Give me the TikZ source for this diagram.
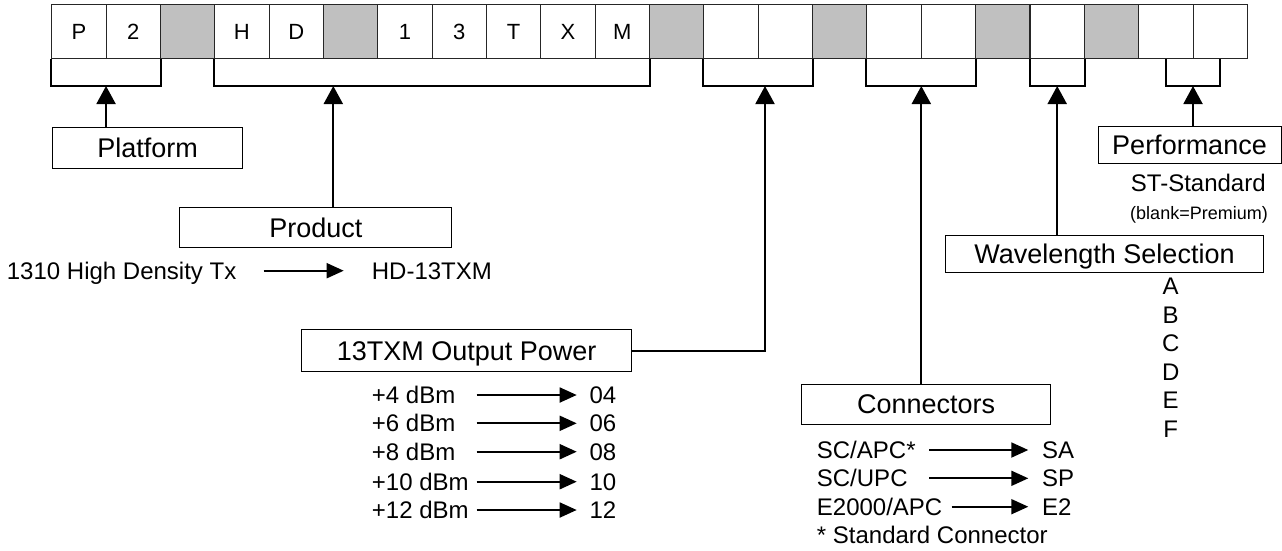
\documentclass[tikz,border=0pt]{standalone}
\usepackage{fontspec}
\setmainfont{Liberation Sans}
\usetikzlibrary{arrows.meta}
\definecolor{sepgray}{HTML}{C0C0C0}

\begin{document}
\begin{tikzpicture}[
      x=1pt, y=-1pt,
      cell/.style={draw=black!85, line width=1pt, minimum width=54.35pt, minimum height=54.3pt, inner sep=0pt, text height=15.8pt, text depth=0pt, font=\fontsize{22}{26}\selectfont},
      sepcell/.style={cell, fill=sepgray},
      fieldbox/.style={draw, line width=1pt, inner sep=0pt, text height=19.4pt, text depth=0pt, font=\fontsize{27}{32}\selectfont},
      opttext/.style={inner sep=0pt, text height=17.2pt, text depth=0pt, font=\fontsize{24}{28}\selectfont},
      brk/.style={line width=2pt},
      arr/.style={-{Triangle[length=18pt, width=19pt]}, line width=2pt},
      map/.style={-{Triangle[length=17pt, width=15pt]}, line width=1.8pt}
  ]
    \useasboundingbox (0,0) rectangle (1282,550);

    \node[cell] (c1) at (78.9,31.2) {P};
    \node[cell] (c2) at (133.2,31.2) {2};
    \node[sepcell] (c3) at (187.6,31.2) {};
    \node[cell] (c4) at (241.9,31.2) {H};
    \node[cell] (c5) at (296.3,31.2) {D};
    \node[sepcell] (c6) at (350.6,31.2) {};
    \node[cell] (c7) at (405.0,31.2) {1};
    \node[cell] (c8) at (459.3,31.2) {3};
    \node[cell] (c9) at (513.7,31.2) {T};
    \node[cell] (c10) at (568.0,31.2) {X};
    \node[cell] (c11) at (622.4,31.2) {M};
    \node[sepcell] (c12) at (676.7,31.2) {};
    \node[cell] (c13) at (731.1,31.2) {};
    \node[cell] (c14) at (785.4,31.2) {};
    \node[sepcell] (c15) at (839.8,31.2) {};
    \node[cell] (c16) at (894.1,31.2) {};
    \node[cell] (c17) at (948.5,31.2) {};
    \node[sepcell] (c18) at (1002.8,31.2) {};
    \node[cell] (c19) at (1057.2,31.2) {};
    \node[sepcell] (c20) at (1111.5,31.2) {};
    \node[cell] (c21) at (1165.9,31.2) {};
    \node[cell] (c22) at (1220.2,31.2) {};

    \coordinate (tPlat) at (106.05,86);
    \coordinate (tProd) at (333.3,86);
    \coordinate (tPwr) at (765,86);
    \coordinate (tConn) at (921.3,86);
    \coordinate (tWave) at (1057.2,86);
    \coordinate (tPerf) at (1193,86);

    \draw[brk] (c1.south west) |- (tPlat) -| (c2.south east);
    \draw[brk] (c4.south west) |- (tProd) -| (c11.south east);
    \draw[brk] (c13.south west) |- (tPwr) -| (c14.south east);
    \draw[brk] (c16.south west) |- (tConn) -| (c17.south east);
    \draw[brk] (c19.south west) |- (tWave) -| (c19.south east);
    \draw[brk] (c21.south) |- (tPerf) -| (c22.south);

    \node[fieldbox, minimum width=190pt, minimum height=40.6pt] (platform) at (147.7,148) {Platform};
    \node[fieldbox, minimum width=271.7pt, minimum height=40.4pt] (product) at (315.8,227.5) {Product};
    \node[fieldbox, minimum width=330pt, minimum height=42.4pt] (power) at (466.7,350.5) {13TXM Output Power};
    \node[fieldbox, minimum width=249pt, minimum height=40pt] (conn) at (926.2,404) {Connectors};
    \node[fieldbox, minimum width=317.6pt, minimum height=37.3pt] (wave) at (1104.5,253.7) {Wavelength Selection};
    \node[fieldbox, minimum width=183pt, minimum height=36.6pt] (perf) at (1189.5,145) {Performance};

    \draw[arr] (platform.north -| tPlat) -- (tPlat);
    \draw[arr] (product.north -| tProd) -- (tProd);
    \draw[arr] (power.east) -| (tPwr);
    \draw[arr] (conn.north -| tConn) -- (tConn);
    \draw[arr] (wave.north -| tWave) -- (tWave);
    \draw[arr] (perf.north -| tPerf) -- (tPerf);

    \node[opttext, anchor=west] (prodIn) at (6.7,270.7) {1310 High Density Tx};
    \node[opttext, anchor=west] (prodOut) at (371.7,270.7) {HD-13TXM};
    \draw[map, shorten <=27pt, shorten >=28pt] (prodIn) -- (prodOut);

    \coordinate (pwrL) at (476.7,0);
    \coordinate (pwrR) at (576.7,0);
    \node[opttext, anchor=west] (p04) at (371.7,395) {+4 dBm};
    \node[opttext, anchor=west] (p06) at (371.7,423.3) {+6 dBm};
    \node[opttext, anchor=west] (p08) at (371.7,451.7) {+8 dBm};
    \node[opttext, anchor=west] (p10) at (371.7,481.7) {+10 dBm};
    \node[opttext, anchor=west] (p12) at (371.7,510) {+12 dBm};
    \node[opttext, anchor=west] (v04) at (589.3,395) {04};
    \node[opttext, anchor=west] (v06) at (589.3,423.3) {06};
    \node[opttext, anchor=west] (v08) at (589.3,451.7) {08};
    \node[opttext, anchor=west] (v10) at (589.3,481.7) {10};
    \node[opttext, anchor=west] (v12) at (589.3,510) {12};
    \draw[map] (p04 -| pwrL) -- (v04 -| pwrR);
    \draw[map] (p06 -| pwrL) -- (v06 -| pwrR);
    \draw[map] (p08 -| pwrL) -- (v08 -| pwrR);
    \draw[map] (p10 -| pwrL) -- (v10 -| pwrR);
    \draw[map] (p12 -| pwrL) -- (v12 -| pwrR);

    \coordinate (conL) at (929.3,0);
    \coordinate (conL2) at (951.5,0);
    \coordinate (conR) at (1028.3,0);
    \node[opttext, anchor=west] (conA) at (816.7,450) {SC/APC*};
    \node[opttext, anchor=west] (conU) at (816.7,478.3) {SC/UPC};
    \node[opttext, anchor=west] (conE) at (816.7,506.7) {E2000/APC};
    \node[opttext, anchor=west] (conNote) at (816.7,535) {* Standard Connector};
    \node[opttext, anchor=west] (vSA) at (1042,450) {SA};
    \node[opttext, anchor=west] (vSP) at (1042,478.3) {SP};
    \node[opttext, anchor=west] (vE2) at (1042,506.7) {E2};
    \draw[map] (conA -| conL) -- (vSA -| conR);
    \draw[map] (conU -| conL) -- (vSP -| conR);
    \draw[map] (conE -| conL2) -- (vE2 -| conR);

    \node[inner sep=0pt, align=center, anchor=north, font=\fontsize{24}{28.5}\selectfont] (waveList) at (1170.7,278) {A\\B\\C\\D\\E\\F};

    \node[opttext] (perfSt) at (1198.3,182.7) {ST-Standard};
    \node[opttext, text height=13pt, font=\fontsize{18}{22}\selectfont] (perfBl) at (1199,213.3) {(blank=Premium)};
  \end{tikzpicture}
\end{document}
